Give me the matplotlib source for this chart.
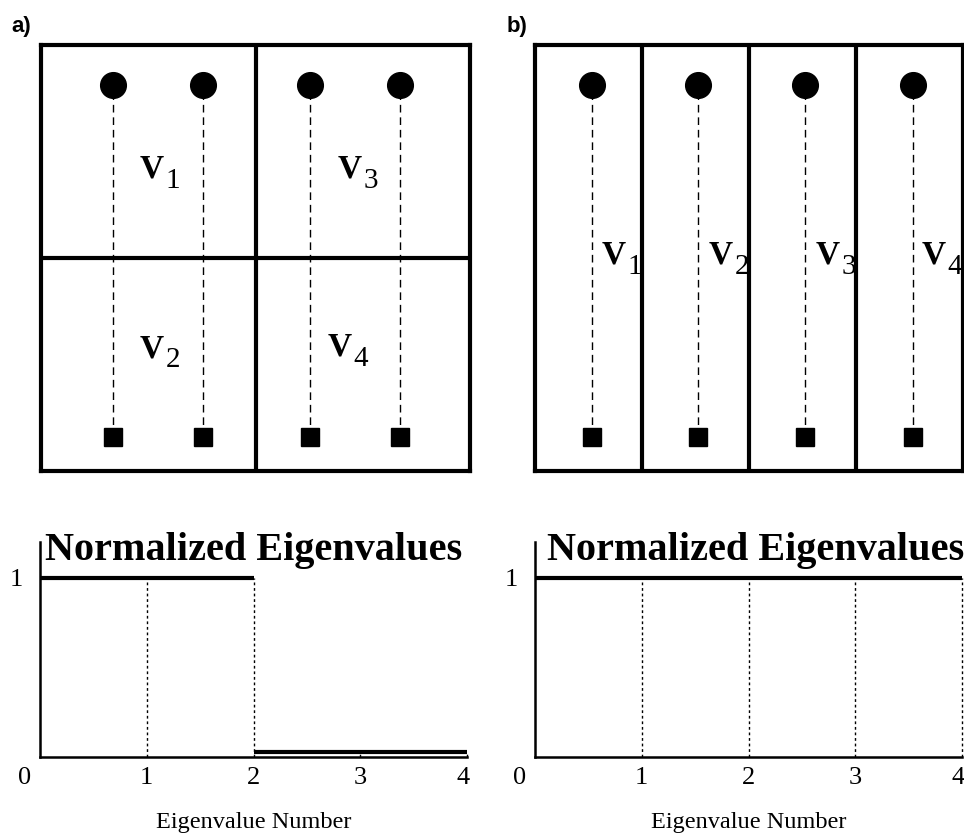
import matplotlib
matplotlib.use("Agg")
import matplotlib.pyplot as plt
from matplotlib.transforms import ScaledTranslation

# ---------------- data ----------------
# schematic (top) panels, axes-fraction coordinates
src_x_a = [0.168, 0.378, 0.627, 0.837]
src_x_b = [0.133, 0.381, 0.631, 0.883]
src_y = 0.906        # circles (sources)
rcv_y = 0.080        # squares (receivers)
part_a_v = [0.5]     # vertical partitions panel a
part_a_h = [0.5]     # horizontal partitions panel a
part_b_v = [0.25, 0.5, 0.75]
vol_labels = ["1", "2", "3", "4"]
vol_pos_a = [(0.231, 0.688), (0.231, 0.267), (0.692, 0.688), (0.669, 0.270)]
vol_pos_b = [(0.156, 0.486), (0.406, 0.486), (0.656, 0.486), (0.904, 0.486)]

# eigenvalue (bottom) panels
eig_number = [1, 2, 3, 4]
eig_a = [1.0, 1.0, 0.03, 0.03]
eig_b = [1.0, 1.0, 1.0, 1.0]
xtick_labels = ["0", "1", "2", "3", "4"]

W, H = 964, 834
fig = plt.figure(figsize=(W / 100, H / 100), dpi=100)

def ax_px(x0, y0, x1, y1):
    return fig.add_axes([x0 / W, 1 - y1 / H, (x1 - x0) / W, (y1 - y0) / H])

SERIF = "Liberation Serif"

def schematic(ax, xs, vparts, hparts, labels_pos):
    ax.set_xlim(0, 1)
    ax.set_ylim(0, 1)
    ax.set_xticks([])
    ax.set_yticks([])
    for s in ax.spines.values():
        s.set_linewidth(3.0)
    for v in vparts:
        ax.axvline(v, color="black", lw=3.0)
    for h in hparts:
        ax.axhline(h, color="black", lw=3.0)
    ax.vlines(xs, rcv_y, src_y, colors="black", lw=1.0,
              linestyles=(0, (5.5, 3.5)), zorder=2)
    ax.plot(xs, [src_y] * len(xs), "o", color="black", ms=18.5, zorder=3)
    ax.plot(xs, [rcv_y] * len(xs), "s", color="black", ms=13.5, zorder=3)
    for lab, (x, y) in zip(vol_labels, labels_pos):
        ax.text(x, y, "V", family=SERIF, fontweight="bold", fontsize=24,
                ha="left", va="baseline", transform=ax.transAxes)
        ax.annotate(lab, xy=(x, y), xycoords="axes fraction",
                    xytext=(18.5, -7.0), textcoords="offset points",
                    family=SERIF, fontsize=21, ha="left", va="baseline")

def eigen(ax, vals, title_x):
    ax.set_xlim(0, 4)
    ax.set_ylim(0, 1.2)
    for k in ("top", "right"):
        ax.spines[k].set_visible(False)
    for k in ("left", "bottom"):
        ax.spines[k].set_linewidth(1.8)
    left = [n - 1 for n in eig_number]
    ax.hlines(vals, left, eig_number, colors="black", lw=3.0, zorder=3,
              clip_on=False)
    ax.vlines(eig_number, 0, vals, colors="black", lw=1.0,
              linestyles=(0, (2, 2)), zorder=2, clip_on=False)
    ax.set_xticks([0] + eig_number)
    ax.set_xticklabels(xtick_labels, family=SERIF, fontsize=19)
    ax.set_yticks([1])
    ax.set_yticklabels(["1"], family=SERIF, fontsize=19)
    ax.tick_params(axis="both", length=0)
    ax.tick_params(axis="x", pad=7)
    ax.tick_params(axis="y", pad=12)
    labs = ax.get_xticklabels()
    labs[0].set_transform(labs[0].get_transform() +
                          ScaledTranslation(-0.15, 0, fig.dpi_scale_trans))
    labs[-1].set_transform(labs[-1].get_transform() +
                           ScaledTranslation(-0.04, 0, fig.dpi_scale_trans))
    ax.text(title_x, 0.916, "Normalized Eigenvalues", family=SERIF,
            fontweight="bold", fontsize=29, ha="center", va="baseline",
            transform=ax.transAxes, clip_on=False)
    ax.set_xlabel("Eigenvalue Number", family=SERIF, fontsize=17.5)
    ax.xaxis.set_label_coords(0.5, -0.33)
    ax.xaxis.label.set_va("baseline")

ax_a = ax_px(41, 45, 470, 471)
schematic(ax_a, src_x_a, part_a_v, part_a_h, vol_pos_a)
ax_b = ax_px(535, 45, 963, 471)
schematic(ax_b, src_x_b, part_b_v, [], vol_pos_b)

ax_c = ax_px(40, 542, 467, 757)
eigen(ax_c, eig_a, 0.5)
ax_d = ax_px(535, 542, 962, 757)
eigen(ax_d, eig_b, 0.517)

fig.text(11 / W, 1 - 32 / H, "a)", family="Liberation Sans",
         fontweight="bold", fontsize=16, ha="left", va="baseline")
fig.text(507 / W, 1 - 32 / H, "b)", family="Liberation Sans",
         fontweight="bold", fontsize=16, ha="left", va="baseline")

fig.savefig("out.png", dpi=100)
